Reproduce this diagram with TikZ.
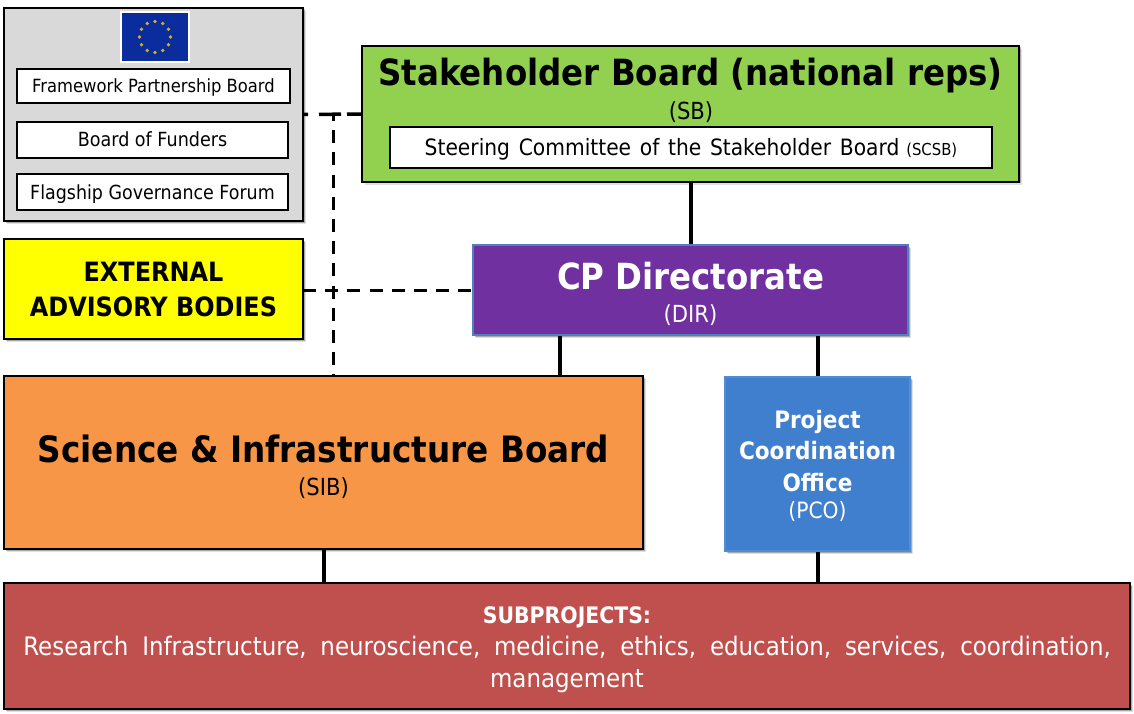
\documentclass[tikz,border=0pt]{standalone}
\usepackage{fontspec}
\setmainfont{DejaVu Sans}[FakeStretch=0.9]
\usetikzlibrary{shadows}
\definecolor{cgrey}{HTML}{D9D9D9}
\definecolor{cgreen}{HTML}{92D050}
\definecolor{cyell}{HTML}{FFFF00}
\definecolor{cpurple}{HTML}{7030A0}
\definecolor{corange}{HTML}{F79646}
\definecolor{cblue}{HTML}{3F7FCD}
\definecolor{cred}{HTML}{C0504D}
\definecolor{cflag}{HTML}{0B2C9C}
\definecolor{cstar}{HTML}{CDB02A}
\definecolor{cedge}{HTML}{4F81BD}
\newcommand{\fs}[1]{\fontsize{#1}{#1}\selectfont}
\newcommand{\fl}[2]{\fontsize{#1}{#2}\selectfont}
\tikzset{
  softshadow/.style={drop shadow={shadow xshift=1.5pt,shadow yshift=-1.5pt,opacity=.25,fill=black},
                     drop shadow={shadow xshift=3pt,shadow yshift=-3pt,opacity=.12,fill=black}},
  box/.style={rectangle,draw=black,line width=1.3pt,inner sep=0pt,align=center,outer sep=0pt},
  panel/.style={box,softshadow},
  whitebox/.style={box,fill=white,text=black,text height=16pt,text depth=2pt},
  solidlink/.style={draw=black,line width=4pt},
  dashlink/.style={draw=black,line width=3pt,dash pattern=on 13pt off 9.2pt},
  txt/.style={inner sep=0pt,outer sep=0pt,align=center}
}
\begin{document}
\begin{tikzpicture}[x=1pt,y=-1pt]
\useasboundingbox (0,0) rectangle (1134,714);
\coordinate (sibtap) at (560,376);
\coordinate (vtap) at (333,115);

% connectors first, boxes over their ends
\draw[solidlink] (690.5,114) coordinate (sbc) -- (690.5,290) coordinate (dirc);
\draw[solidlink] (sibtap |- dirc) -- (sibtap);
\draw[solidlink] (817.5,290) coordinate (dirr) -- (817.5,464) coordinate (pcoc);
\draw[solidlink] (pcoc) -- (817.5,600) coordinate (redr);
\draw[solidlink] (323.5,462) coordinate (sibc) -- (323.5,600) coordinate (redl);

\node[panel,fill=cgrey,minimum width=299pt,minimum height=213pt] (grey) at (153.5,114.5) {};
\node[panel,fill=cgreen,minimum width=657pt,minimum height=136pt] (sb) at (690.5,114) {};
\node[panel,fill=cyell,minimum width=299pt,minimum height=100pt,font=\fl{26.6}{35}\bfseries] (ext) at (153.5,289) {EXTERNAL\\ADVISORY BODIES};
\node[panel,draw=cedge,fill=cpurple,text=white,minimum width=435pt,minimum height=90pt] (dir) at (690.5,290) {{\fs{36}\bfseries\rule{0pt}{35pt}CP Directorate}\\[14pt]{\fs{23.5}(DIR)}};
\node[panel,fill=corange,minimum width=639pt,minimum height=173pt] (sib) at (323.5,462.5) {{\fs{36.3}\bfseries\rule{0pt}{36pt}Science \& Infrastructure Board}\\[13pt]{\fs{23.5}(SIB)}};
\node[panel,draw=cblue!90!white,fill=cblue,text=white,minimum width=185pt,minimum height=174pt,font=\fl{24}{31.5}\bfseries] (pco) at (817.5,464) {\rule{0pt}{22pt}Project\\Coordination\\Office\\[-4pt]{\mdseries\fs{22.5}(PCO)}};
\node[panel,fill=cred,text=white,minimum width=1126pt,minimum height=126pt,font=\fl{25.5}{32}] (red) at (567,646) {{\bfseries\fs{22.7}\rule{0pt}{24pt}SUBPROJECTS:}\\{\spaceskip=13.8pt Research Infrastructure, neuroscience, medicine, ethics, education, services, coordination,}\\management};

% dashed links
\draw[dashlink,line width=3.5pt,dash pattern=on 5pt off 11pt on 22pt off 6pt on 15pt off 100pt] (grey.east) -- (sb.west);
\draw[dashlink,dash phase=7pt] (vtap) -- (vtap |- sib.north);
\draw[dashlink] (ext.east |- dir.west) -- (dir.west);

% grey panel contents
\node[rectangle,draw=white,line width=1.3pt,fill=cflag,minimum width=68pt,minimum height=50pt] (flag) at (155,37) {};
\foreach \a in {0,30,...,330}{
  \fill[cstar] (flag.center) ++(\a:15.5) circle[radius=1.9];
}
\node[whitebox,minimum width=273pt,minimum height=34pt,font=\fs{18.2}] (fpb) at (153.5,86) {Framework Partnership Board};
\node[whitebox,minimum width=271pt,minimum height=36pt,font=\fs{19.5}] (bof) at (152.5,140) {Board of Funders};
\node[whitebox,minimum width=271pt,minimum height=36pt,font=\fs{19.4}] (fgf) at (152.5,192) {Flagship Governance Forum};

% green panel contents
\node[txt,font=\fs{36.1}\bfseries] (sbtitle) at (690.5,75.5) {Stakeholder Board (national reps)};
\node[txt,font=\fs{23.5}] (sbabbr) at (691,112) {(SB)};
\node[whitebox,minimum width=602pt,minimum height=41pt,text height=20pt,text depth=3pt] (scsb) at (691,147.5) {{\fs{22.5}\spaceskip=8.7pt Steering Committee of the Stakeholder Board} \hspace{4pt}{\fs{16.5}(SCSB)}};
\end{tikzpicture}
\end{document}
